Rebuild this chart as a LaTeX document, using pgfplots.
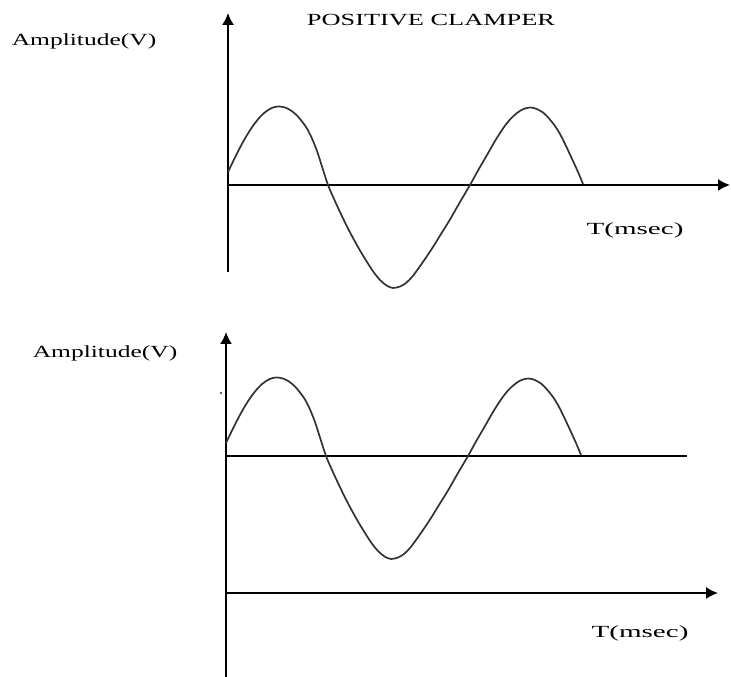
\documentclass[border=0pt]{standalone}
\usepackage{pgfplots}
\pgfplotsset{compat=1.18}
\usepackage{fontspec}
\setmainfont{Liberation Serif}
\usetikzlibrary{arrows.meta}
\begin{document}
\begin{tikzpicture}
\begin{axis}[
  scale only axis, width=731pt, height=677pt,
  xmin=0, xmax=731, ymin=0, ymax=677,
  hide axis, clip=false,
]
\coordinate (LL) at (rel axis cs:0,0);
\coordinate (UR) at (rel axis cs:1,1);
% ---- top panel: input wave ----
\addplot[black, line width=1.6pt, -{Latex[length=12pt,width=12pt]}] coordinates {(228,405) (228,664)};
\addplot[black, line width=1.6pt, -{Latex[length=12pt,width=12pt]}] coordinates {(228,492) (730,492)};
\addplot[black!80, line width=1.7pt, smooth, tension=0.5] coordinates {
 (228,505) (231.5,512.3) (236,521.5) (241,531.3) (245.5,539.4) (250.5,547.5) (255,553.9)
 (260,560) (264.5,564.3) (269.5,567.8) (274,569.8) (279,570.5) (285,569.5) (291,566.5)
 (297,561.5) (302,555.5) (307,548.5) (312,538.5) (317,526) (322,510.5) (328,492)
 (334,478) (340,465) (346.5,451.5) (353,439) (360,426.5) (367,415) (373.5,405)
 (380,397) (386.5,391.5) (393,389) (400,390.5) (406,394) (412,400) (418,408)
 (425,418) (433,430) (441,443) (450,457.5) (460,475) (470,492) (478,506.5) (487,522)
 (495,536) (503,548.5) (510,557.5) (517,564) (523,567.8) (530,569.5) (536,568.3)
 (543,564.5) (549,558.5) (555,551) (560,543) (566,531) (573,516) (578,505) (583,493)};
\node[font=\fontsize{17}{19}\selectfont, xscale=1.55] at (axis cs:431,657) {POSITIVE CLAMPER};
\node[font=\fontsize{17}{19}\selectfont, xscale=1.50] at (axis cs:84,636) {Amplitude(V)};
\node[font=\fontsize{17}{19}\selectfont, xscale=1.71] at (axis cs:635,447) {T(msec)};
% ---- bottom panel: clamped wave ----
\addplot[black, line width=1.6pt, -{Latex[length=12pt,width=12pt]}] coordinates {(226,0) (226,345)};
\addplot[black, line width=1.6pt, -{Latex[length=12pt,width=12pt]}] coordinates {(226,84) (718,84)};
\addplot[black, line width=1.6pt] coordinates {(226,221) (687,221)};
\addplot[black!80, line width=1.7pt, smooth, tension=0.5] coordinates {
 (226,234) (229.5,241.3) (234,250.5) (239,260.3) (243.5,268.4) (248.5,276.5) (253,282.9)
 (258,289) (262.5,293.3) (267.5,296.8) (272,298.8) (277,299.5) (283,298.5) (289,295.5)
 (295,290.5) (300,284.5) (305,277.5) (310,267.5) (315,255) (320,239.5) (326,221)
 (332,207) (338,194) (344.5,180.5) (351,168) (358,155.5) (365,144) (371.5,134)
 (378,126) (384.5,120.5) (391,118) (398,119.5) (404,123) (410,129) (416,137)
 (423,147) (431,159) (439,172) (448,186.5) (458,204) (468,221) (476,235.5) (485,251)
 (493,265) (501,277.5) (508,286.5) (515,293) (521,296.8) (528,298.5) (534,297.3)
 (541,293.5) (547,287.5) (553,280) (558,272) (564,260) (571,245) (576,234) (581,222)};
\addplot[black, only marks, mark=*, mark size=0.6pt] coordinates {(221,284)};
\node[font=\fontsize{17}{19}\selectfont, xscale=1.50] at (axis cs:105,324) {Amplitude(V)};
\node[font=\fontsize{17}{19}\selectfont, xscale=1.71] at (axis cs:640,44) {T(msec)};
\end{axis}
\pgfresetboundingbox
\useasboundingbox (LL) rectangle (UR);
\end{tikzpicture}
\end{document}
